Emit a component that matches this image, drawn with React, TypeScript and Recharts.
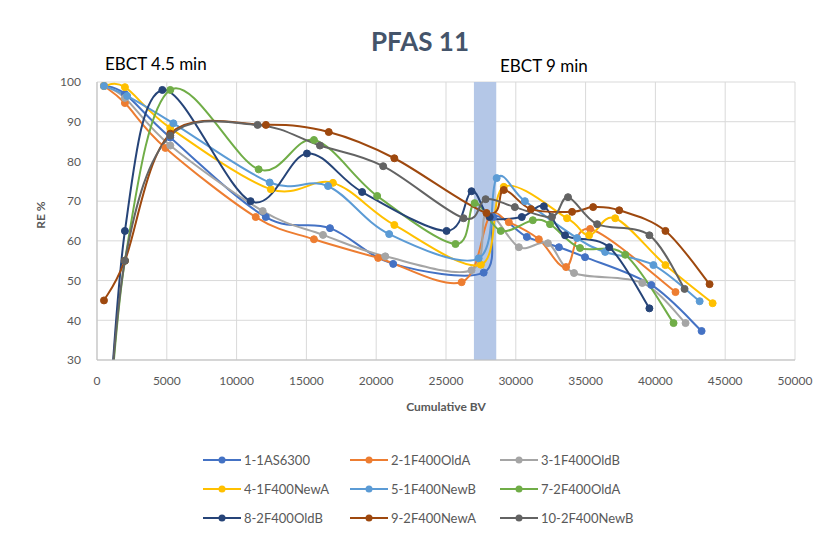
import React from 'react'
import { LineChart, Line, XAxis, YAxis, CartesianGrid, ReferenceArea } from 'recharts'

// [cumulative BV, RE %]
const s1 = [[500, 99], [2000, 97], [5250, 86], [12090, 66], [16690, 63.2], [21220, 54.2], [27700, 52], [28400, 66], [30790, 61], [33090, 58.4], [34960, 55.9], [39710, 48.9], [43310, 37.3]]
const s2 = [[500, 99], [2000, 94.7], [4900, 83.4], [11370, 66], [15540, 60.4], [20140, 55.7], [26120, 49.6], [28100, 66], [29500, 64.7], [31650, 60.4], [33600, 53.4], [35320, 63], [41440, 47.1]]
const s3 = [[500, 99], [2000, 96], [5250, 84], [11870, 67.5], [16190, 61.5], [20650, 56.1], [26830, 52.6], [27900, 67], [30220, 58.4], [32300, 59.4], [34170, 51.9], [39060, 49.4], [42160, 39.3]]
const s4 = [[500, 99], [2000, 98.7], [5250, 88.4], [12450, 73], [16900, 74.6], [21300, 64], [27500, 54], [29140, 73.6], [33670, 65.7], [35250, 61.4], [37120, 65.7], [40720, 53.9], [44100, 44.3]]
const s5 = [[500, 99], [2160, 96.5], [5470, 89.6], [12370, 74.7], [16550, 73.8], [20930, 61.7], [27340, 55.6], [28630, 75.8], [30650, 70], [34390, 60.7], [36400, 57.2], [39860, 53.9], [43170, 44.8]]
const s7 = [[500, -3], [2000, 55], [5250, 98], [11580, 78], [15540, 85.4], [20070, 71.3], [25680, 59.2], [27050, 69.5], [28920, 62.5], [31220, 65.2], [32450, 64.2], [34600, 58.2], [37840, 56.5], [41300, 39.3]]
const s8 = [[500, -5], [2000, 62.5], [4680, 98], [11000, 70], [15040, 82], [18990, 72.3], [25040, 62.5], [26830, 72.5], [28130, 66], [30430, 66], [32010, 68.7], [33530, 61.4], [36690, 58.4], [39570, 43]]
const s9 = [[500, 45], [2000, 55], [5250, 87], [12100, 89.2], [16600, 87.4], [21300, 80.8], [27900, 67], [29140, 72.8], [31080, 68], [34030, 67.3], [35540, 68.5], [37410, 67.7], [40720, 62.5], [43880, 49.1]]
const s10 = [[500, -2], [2000, 55], [5250, 86.5], [11500, 89.2], [15970, 84], [20500, 78.8], [26260, 65.7], [27840, 70.5], [29930, 68.5], [32590, 66], [33740, 71], [35830, 64.2], [39570, 61.4], [42090, 47.9]]

const seriesNames = ['1-1AS6300', '2-1F400OldA', '3-1F400OldB', '4-1F400NewA', '5-1F400NewB', '7-2F400OldA', '8-2F400OldB', '9-2F400NewA', '10-2F400NewB']
const seriesColors = ['#4472C4', '#ED7D31', '#A5A5A5', '#FFC000', '#5B9BD5', '#70AD47', '#264478', '#9E480E', '#636363']
const seriesPoints = [s1, s2, s3, s4, s5, s7, s8, s9, s10]

const xTicks = [0, 5000, 10000, 15000, 20000, 25000, 30000, 35000, 40000, 45000, 50000]
const yTicks = [30, 40, 50, 60, 70, 80, 90, 100]
const band = [27000, 28600] // EBCT 9 min switch-over

// Excel style smoothing (Catmull-Rom through every point)
const excelSmooth = (context: any) => {
  let pts: number[][] = []
  return {
    areaStart() {},
    areaEnd() {},
    lineStart() { pts = [] },
    lineEnd() {
      const n = pts.length
      if (!n) return
      context.moveTo(pts[0][0], pts[0][1])
      for (let i = 0; i < n - 1; i++) {
        const p0 = pts[Math.max(0, i - 1)]
        const p1 = pts[i]
        const p2 = pts[i + 1]
        const p3 = pts[Math.min(n - 1, i + 2)]
        context.bezierCurveTo(
          p1[0] + (p2[0] - p0[0]) / 6, p1[1] + (p2[1] - p0[1]) / 6,
          p2[0] - (p3[0] - p1[0]) / 6, p2[1] - (p3[1] - p1[1]) / 6,
          p2[0], p2[1]
        )
      }
    },
    point(x: number, y: number) { pts.push([+x, +y]) },
  }
}

const font = 'Lato, "Open Sans", sans-serif'
const axisColor = '#595959'

export default function App() {
  const series = seriesNames.map((name, i) => ({
    name,
    color: seriesColors[i],
    data: seriesPoints[i].map(([bv, re]) => ({ bv, re })),
  }))

  return (
    <div style={{ position: 'relative', width: 810, height: 523, fontFamily: font, background: '#fff' }}>
      <div style={{ position: 'absolute', left: 7, top: 20, width: 810, textAlign: 'center', fontSize: 26, fontWeight: 700, color: '#44546A', lineHeight: 1 }}>
        PFAS 11
      </div>
      <div style={{ position: 'absolute', left: 97, top: 47, fontSize: 17, color: '#000', lineHeight: 1 }}>EBCT 4.5 min</div>
      <div style={{ position: 'absolute', left: 492, top: 49, fontSize: 17, color: '#000', lineHeight: 1 }}>EBCT 9 min</div>

      <LineChart width={810} height={523} margin={{ top: 74, right: 23, left: 0, bottom: 141 }}>
        <CartesianGrid stroke="#d9d9d9" />
        <ReferenceArea x1={band[0]} x2={band[1]} y1={30} y2={100} fill="#b4c7e7" fillOpacity={1} stroke="none" ifOverflow="hidden" />
        <XAxis
          type="number"
          dataKey="bv"
          domain={[0, 50000]}
          ticks={xTicks}
          interval={0}
          height={30}
          stroke="#bfbfbf"
          tickLine={false}
          tickSize={8}
          tickMargin={8}
          tick={{ fill: axisColor, fontSize: 12, fontFamily: font }}
          allowDuplicatedCategory={false}
        />
        <YAxis
          type="number"
          dataKey="re"
          domain={[30, 100]}
          ticks={yTicks}
          interval={0}
          allowDataOverflow
          width={89}
          stroke="#bfbfbf"
          tickLine={false}
          tickSize={8}
          tickMargin={8}
          tick={{ fill: axisColor, fontSize: 12, fontFamily: font }}
        />
        {series.map((s) => (
          <Line
            key={s.name}
            data={s.data}
            dataKey="re"
            name={s.name}
            type={excelSmooth as any}
            stroke={s.color}
            strokeWidth={2}
            dot={{ r: 3.5, fill: s.color, stroke: s.color, strokeWidth: 1 }}
            isAnimationActive={false}
          />
        ))}
      </LineChart>

      <div style={{ position: 'absolute', left: 32, top: 207, transform: 'translate(-50%, -50%) rotate(-90deg)', fontSize: 12, fontWeight: 700, color: axisColor, whiteSpace: 'nowrap' }}>
        RE %
      </div>
      <div style={{ position: 'absolute', left: 438, top: 398, transform: 'translate(-50%, -50%)', fontSize: 12, fontWeight: 700, color: axisColor, whiteSpace: 'nowrap' }}>
        Cumulative BV
      </div>

      {series.map((s, i) => {
        const col = i % 3
        const row = Math.floor(i / 3)
        const left = [195, 342, 492][col]
        const top = [452, 481, 510][row]
        return (
          <div key={s.name} style={{ position: 'absolute', left, top: top - 8, height: 16, display: 'flex', alignItems: 'center' }}>
            <svg width={38} height={16}>
              <line x1={0} y1={8} x2={38} y2={8} stroke={s.color} strokeWidth={2} />
              <circle cx={19} cy={8} r={3.5} fill={s.color} />
            </svg>
            <span style={{ marginLeft: 3, fontSize: 13, color: axisColor }}>{s.name}</span>
          </div>
        )
      })}
    </div>
  )
}
